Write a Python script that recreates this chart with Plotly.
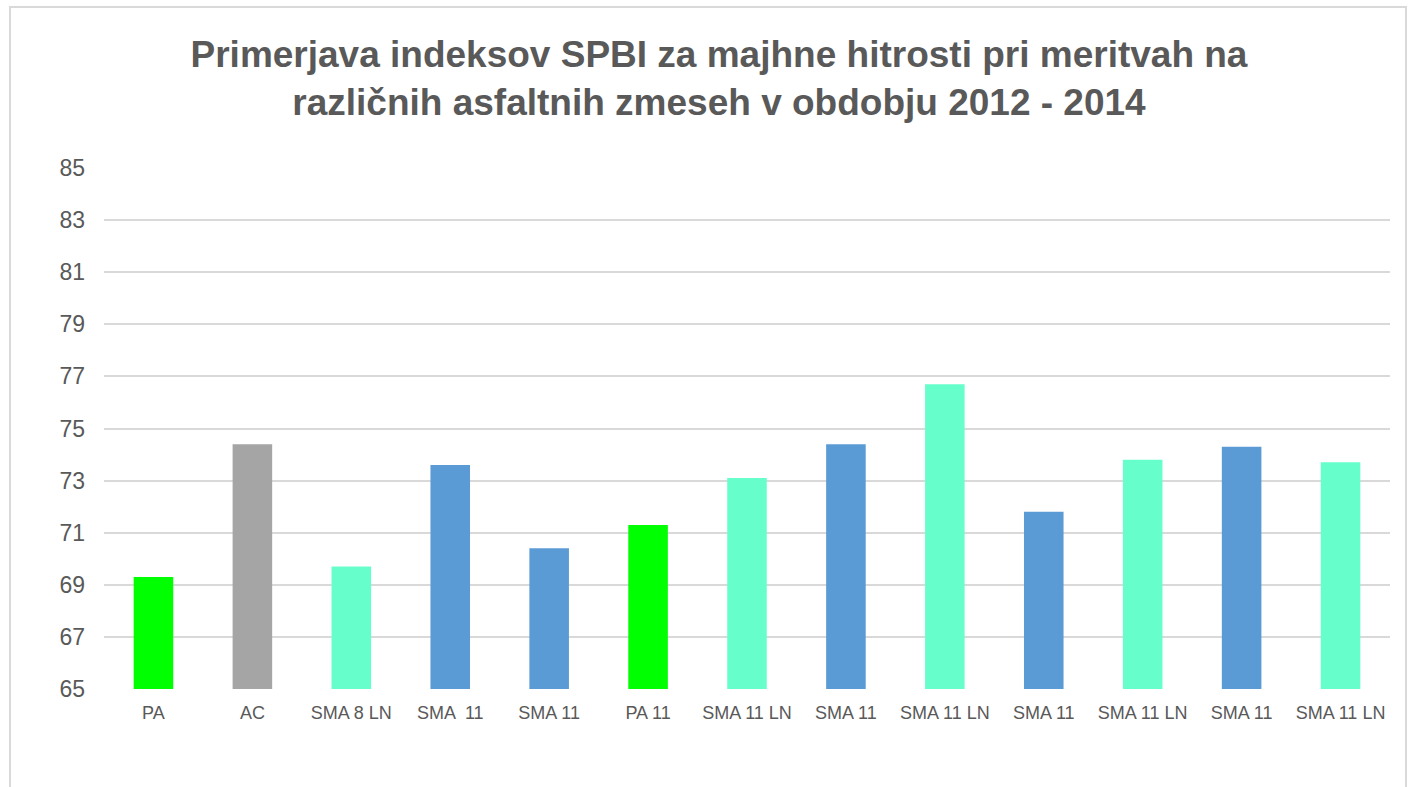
import plotly.graph_objects as go

categories = ["PA", "AC", "SMA 8 LN", "SMA  11", "SMA 11", "PA 11", "SMA 11 LN",
              "SMA 11", "SMA 11 LN", "SMA 11", "SMA 11 LN", "SMA 11", "SMA 11 LN"]
values = [69.3, 74.4, 69.7, 73.6, 70.4, 71.3, 73.1, 74.4, 76.7, 71.8, 73.8, 74.3, 73.7]
bar_colors = ["#00FF00", "#A5A5A5", "#66FFCC", "#5B9BD5", "#5B9BD5", "#00FF00", "#66FFCC",
              "#5B9BD5", "#66FFCC", "#5B9BD5", "#66FFCC", "#5B9BD5", "#66FFCC"]
y_ticks = [65, 67, 69, 71, 73, 75, 77, 79, 81, 83, 85]
title_text = ("Primerjava indeksov SPBI za majhne hitrosti pri meritvah na<br>"
              "različnih asfaltnih zmeseh v obdobju 2012 - 2014")

positions = list(range(len(categories)))
tick_text = [c.replace("  ", " \u00a0") for c in categories]

FONT = "Liberation Sans, Arial, sans-serif"
TXT = "#595959"

fig = go.Figure(go.Bar(
    x=positions, y=[v - 65 for v in values], base=65,
    marker=dict(color=bar_colors, line=dict(width=0)),
    hovertext=[f"{c}: {v}" for c, v in zip(categories, values)],
    hoverinfo="text",
))

W, H = 1410, 787
L, R, T, B = 104, 20, 168, 98
pw, ph = W - L - R, H - T - B

def px_x(px):
    return (px - L) / pw

def px_y(py):
    return (H - B - py) / ph

frame = (f"M {px_x(10)},{px_y(900)} L {px_x(10)},{px_y(7)} "
         f"L {px_x(1406)},{px_y(7)} L {px_x(1406)},{px_y(900)}")

fig.update_layout(
    width=W, height=H,
    margin=dict(l=L, r=R, t=T, b=B),
    paper_bgcolor="white", plot_bgcolor="white",
    bargap=0.6,
    showlegend=False,
    font=dict(family=FONT, color=TXT),
    title=dict(text=title_text, x=719 / W, xref="container",
               xanchor="center", y=1 - 67 / H, yanchor="middle",
               font=dict(family=FONT, size=37, color=TXT, weight="bold")),
    xaxis=dict(
        tickvals=positions, ticktext=tick_text,
        range=[-0.5, len(categories) - 0.5],
        showgrid=False, zeroline=False, showline=False,
        ticks="", tickfont=dict(size=18, color=TXT),
        ticklabelstandoff=11, fixedrange=True,
    ),
    yaxis=dict(
        range=[65, 85], tickvals=y_ticks,
        showgrid=True, gridcolor="#D9D9D9", gridwidth=1.5,
        zeroline=False, showline=False, ticks="",
        tickfont=dict(size=23, color=TXT),
        ticklabelstandoff=18, fixedrange=True,
    ),
    shapes=[dict(type="path", path=frame, xref="paper", yref="paper",
                 line=dict(color="#D9D9D9", width=2), layer="above")],
)

fig.write_html("out.html",
               config={"displayModeBar": False},
               post_script="document.body.style.margin='0';document.body.style.overflow='hidden';")
